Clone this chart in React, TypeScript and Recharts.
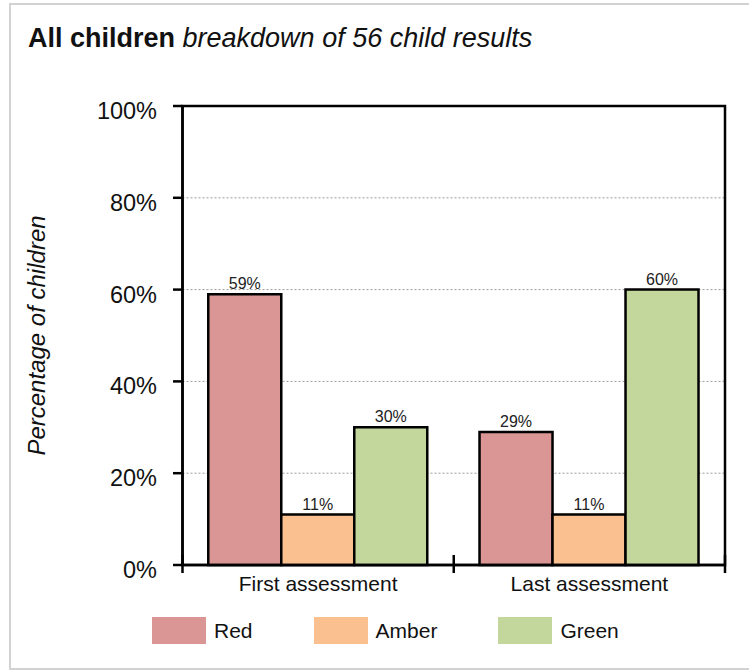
import React from 'react'
import { BarChart, Bar, XAxis, YAxis, CartesianGrid, LabelList, Legend, ReferenceArea } from 'recharts'

const categories = ['First assessment', 'Last assessment']
const redValues = [59, 29]
const amberValues = [11, 11]
const greenValues = [30, 60]
const yTicks = [0, 20, 40, 60, 80, 100]

const FONT = '"Liberation Sans", Arial, sans-serif'

const series = [
  { key: 'red', name: 'Red', color: '#d99694' },
  { key: 'amber', name: 'Amber', color: '#fac090' },
  { key: 'green', name: 'Green', color: '#c3d69b' },
]

const data = categories.map((name, i) => ({
  name,
  red: redValues[i],
  amber: amberValues[i],
  green: greenValues[i],
}))

// percent tick, nudged a little below the tick mark
const YTick = ({ x, y, payload }: any) => (
  <text x={x} y={y + 13} textAnchor="end" fontSize={23.5} fontFamily={FONT} fill="#111">
    {payload.value}%
  </text>
)

// category label plus the boundary ticks that cross the axis
const XTick = ({ x, y, payload, index, visibleTicksCount }: any) => {
  const half = payload.offset || 0
  const isLast = index === visibleTicksCount - 1
  return (
    <g>
      <line x1={x - half} x2={x - half} y1={y - 10} y2={y + 8} stroke="#000" strokeWidth={2.5} />
      {isLast && <line x1={x + half} x2={x + half} y1={y - 10} y2={y + 8} stroke="#000" strokeWidth={2.5} />}
      <text x={x} y={y + 26} textAnchor="middle" fontSize={21} fontFamily={FONT} fill="#111">
        {payload.value}
      </text>
    </g>
  )
}

const YLabel = ({ viewBox }: any) => {
  const cx = viewBox.x + 25
  const cy = viewBox.y + viewBox.height / 2
  return (
    <text
      x={cx}
      y={cy}
      transform={`rotate(-90, ${cx}, ${cy})`}
      textAnchor="middle"
      fontSize={24}
      fontStyle="italic"
      fontFamily={FONT}
      fill="#111"
    >
      Percentage of children
    </text>
  )
}

// keep legend entries in series order (Red, Amber, Green)
const LegendContent = ({ payload }: any) => {
  const items = [...(payload || [])].sort(
    (a: any, b: any) =>
      series.findIndex((s) => s.name === a.value) - series.findIndex((s) => s.name === b.value),
  )
  return (
    <div style={{ display: 'flex', height: 27, fontFamily: FONT, fontSize: 21, color: '#111' }}>
      {items.map((entry: any) => (
        <div key={entry.value} style={{ display: 'flex', alignItems: 'center', marginRight: 61 }}>
          <div style={{ width: 54, height: 27, background: entry.color }} />
          <span style={{ marginLeft: 8, lineHeight: '27px' }}>{entry.value}</span>
        </div>
      ))}
    </div>
  )
}

export default function App() {
  return (
    <div style={{ position: 'absolute', left: 0, top: 0, width: 749, height: 670, overflow: 'hidden', background: '#fff' }}>
      <div
        style={{
          position: 'absolute',
          left: 9,
          top: 3,
          width: 800,
          height: 663,
          border: '2px solid #d2d2d2',
        }}
      />
      <div
        style={{
          position: 'absolute',
          left: 28,
          top: 25,
          fontFamily: FONT,
          fontSize: 27,
          lineHeight: '27px',
          color: '#111',
          whiteSpace: 'nowrap',
        }}
      >
        <b>All children</b> <i>breakdown of 56 child results</i>
      </div>
      <div style={{ position: 'absolute', left: 0, top: 0 }}>
        <BarChart
          width={749}
          height={670}
          data={data}
          margin={{ top: 106, right: 24, bottom: 26, left: 20 }}
          barCategoryGap="9.5%"
          barGap={0}
        >
          <CartesianGrid vertical={false} stroke="#9a9a9a" strokeDasharray="2 2" />
          {/* plot frame: top and right edges */}
          <ReferenceArea y1={0} y2={100} fill="none" stroke="#000" strokeWidth={2.5} ifOverflow="visible" />
          <XAxis
            dataKey="name"
            height={52}
            axisLine={{ stroke: '#000', strokeWidth: 2.5 }}
            tickLine={false}
            tickSize={0}
            tickMargin={0}
            tick={<XTick />}
            interval={0}
          />
          <YAxis
            width={162.5}
            domain={[0, 100]}
            ticks={yTicks}
            interval={0}
            tickSize={9.5}
            tickMargin={16}
            tickLine={{ stroke: '#000', strokeWidth: 2.5 }}
            axisLine={{ stroke: '#000', strokeWidth: 2.5 }}
            tick={<YTick />}
            label={{ content: <YLabel /> }}
          />
          <Legend
            verticalAlign="bottom"
            align="left"
            content={<LegendContent />}
            wrapperStyle={{ left: 152, width: 'auto' }}
          />
          {series.map((s) => (
            <Bar
              key={s.key}
              dataKey={s.key}
              name={s.name}
              fill={s.color}
              stroke="#000"
              strokeWidth={2.5}
              isAnimationActive={false}
            >
              <LabelList
                dataKey={s.key}
                position="top"
                offset={5}
                formatter={(v: any) => `${v}%`}
                fill="#222"
                fontSize={16}
                fontFamily={FONT}
              />
            </Bar>
          ))}
        </BarChart>
      </div>
    </div>
  )
}
